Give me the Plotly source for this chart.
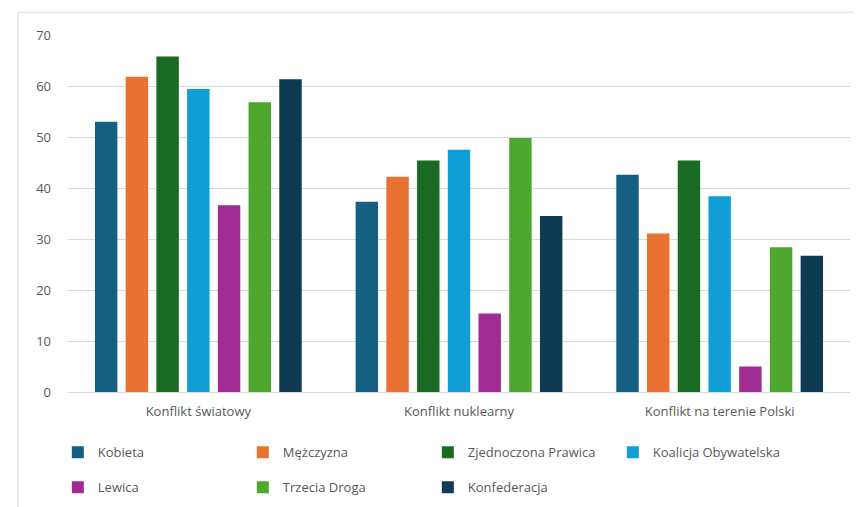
import plotly.graph_objects as go

categories = ["Konflikt światowy", "Konflikt nuklearny", "Konflikt na terenie Polski"]
series_names = ["Kobieta", "Mężczyzna", "Zjednoczona Prawica", "Koalicja Obywatelska",
                "Lewica", "Trzecia Droga", "Konfederacja"]
kobieta = [53, 37.3, 42.6]
mezczyzna = [61.8, 42.2, 31.1]
zp = [65.8, 45.4, 45.4]
ko = [59.4, 47.5, 38.4]
lewica = [36.6, 15.4, 5.0]
trzecia = [56.8, 49.8, 28.4]
konfederacja = [61.3, 34.5, 26.7]
series_values = [kobieta, mezczyzna, zp, ko, lewica, trzecia, konfederacja]
colors = ["#156082", "#E97132", "#196B24", "#0F9ED5", "#A02B93", "#4EA72E", "#0E3A52"]
legend_row = ["legend", "legend", "legend", "legend", "legend2", "legend2", "legend2"]

fig = go.Figure()
for name, vals, col, lg in zip(series_names, series_values, colors, legend_row):
    fig.add_trace(go.Bar(x=categories, y=vals, name=name, marker_color=col,
                         marker_line_width=0, legend=lg))

font_fam = "Open Sans, Lato, sans-serif"
leg_common = dict(orientation="h", xanchor="left", yanchor="top",
                  entrywidth=140, entrywidthmode="pixels", itemwidth=30,
                  font=dict(size=13, color="#595959"), tracegroupgap=0,
                  bgcolor="rgba(0,0,0,0)")
fig.update_layout(
    width=854, height=499,
    margin=dict(l=60, r=12, t=27, b=115, autoexpand=False),
    paper_bgcolor="white", plot_bgcolor="white",
    barmode="group", bargap=0.175, bargroupgap=0.27,
    font=dict(family=font_fam, size=13, color="#595959"),
    showlegend=True,
    legend=dict(x=-0.013, y=-0.127, **leg_common),
    legend2=dict(x=-0.013, y=-0.225, **leg_common),
    xaxis=dict(showgrid=False, showline=False, ticks="", ticklabelstandoff=10,
               tickfont=dict(size=13, color="#595959")),
    yaxis=dict(range=[0, 70], dtick=10, showgrid=True, gridcolor="#D9D9D9",
               gridwidth=1, zeroline=True, zerolinecolor="#D9D9D9", zerolinewidth=1,
               showline=False, ticks="", ticklabelstandoff=16,
               tickfont=dict(size=13, color="#595959")),
    shapes=[
        dict(type="line", xref="paper", yref="paper", x0=-0.0639, x1=1.1, y0=1.064, y1=1.064,
             line=dict(color="#D9D9D9", width=1)),
        dict(type="line", xref="paper", yref="paper", x0=-0.0639, x1=-0.0639, y0=1.064, y1=-0.4,
             line=dict(color="#D9D9D9", width=1)),
    ],
)

fig.write_html("out.html")
